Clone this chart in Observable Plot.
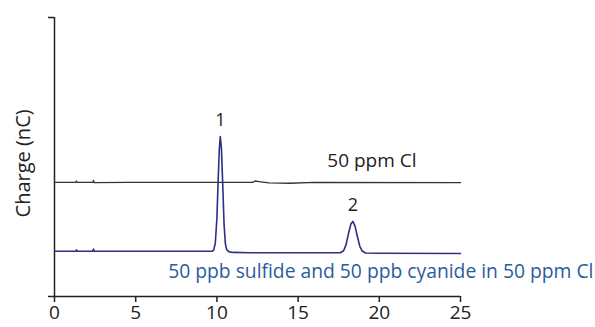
<!DOCTYPE html>
<html>
<head>
<meta charset="utf-8">
<script src="https://cdn.jsdelivr.net/npm/d3@7"></script>
<script src="https://cdn.jsdelivr.net/npm/@observablehq/plot@0.6"></script>
<style>
  html, body { margin: 0; padding: 0; background: #fff; }
  #chart svg { display: block; }
</style>
</head>
<body>
<div id="chart"></div>
<script>
// Sample trace (blue): retention time (min) and charge (arbitrary nC units)
const sampleTime   = [0.05, 1.3, 1.35, 1.4, 2.35, 2.4, 2.45, 6.0, 9.7, 9.8, 9.9, 10.0, 10.08, 10.15, 10.21, 10.28, 10.36, 10.44, 10.52, 10.6, 10.75, 11.0, 12.0, 15.0, 17.6, 17.8, 17.95, 18.1, 18.25, 18.37, 18.5, 18.65, 18.8, 18.95, 19.15, 20.0, 25.0];
const sampleCharge = [16.2, 16.2, 16.7, 16.2, 16.2, 17.0, 16.2, 16.2, 16.2, 16.6, 19.0, 28.0, 42.0, 53.0, 57.3, 53.0, 40.0, 26.0, 19.0, 16.8, 16.0, 15.8, 15.7, 15.7, 15.7, 16.4, 18.5, 22.5, 26.0, 26.9, 25.3, 21.5, 18.0, 16.3, 15.6, 15.5, 15.4];

// Blank trace (black): 50 ppm Cl
const blankTime   = [0.0, 1.3, 1.35, 1.4, 2.35, 2.4, 2.45, 4.5, 12.2, 12.35, 12.6, 13.2, 14.5, 16.0, 25.0];
const blankCharge = [40.9, 40.9, 41.4, 40.9, 40.9, 41.6, 40.8, 40.9, 40.9, 41.4, 41.2, 40.7, 40.6, 40.9, 40.8];

const xTicks = [0, 5, 10, 15, 20, 25];
const yExtent = [0, 100];
const yTitle = "Charge (nC)";

const peakNumbers = ["1", "2"];
const peakTimes = [10.21, 18.37];
const peakHeights = [57.3, 26.9];

const traceLabels = ["50 ppm Cl", "50 ppb sulfide and 50 ppb cyanide in 50 ppm Cl"];
const traceLabelTime = [16.8, 7.0];
const traceLabelCharge = [48.7, 9.0];

const sample = sampleTime.map((t, i) => ({t, v: sampleCharge[i]}));
const blank = blankTime.map((t, i) => ({t, v: blankCharge[i]}));
const peaks = peakNumbers.map((n, i) => ({n, t: peakTimes[i], v: peakHeights[i]}));

const font = "'Open Sans', 'DejaVu Sans', sans-serif";

const chart = Plot.plot({
  width: 595,
  height: 327,
  marginLeft: 54,
  marginRight: 135,
  marginTop: 17,
  marginBottom: 31,
  style: {fontFamily: font, background: "#fff", color: "#222"},
  x: {domain: [0, 25]},
  y: {domain: yExtent},
  marks: [
    Plot.axisX({ticks: xTicks, tickSize: 6, tickPadding: 3, fontSize: 19, label: null, stroke: "#222", strokeWidth: 1.5}),
    Plot.axisY({ticks: yExtent, tickSize: 6, tickFormat: () => "", label: null, stroke: "#222", strokeWidth: 1.5}),
    Plot.text([yTitle], {frameAnchor: "left", y: [47.7], text: d => d, rotate: -90, textAnchor: "middle", lineAnchor: "middle", dx: -31, fontSize: 20, fill: "#222"}),
    Plot.ruleY([0], {stroke: "#222", strokeWidth: 1.5}),
    Plot.ruleX([0], {stroke: "#222", strokeWidth: 1.5}),
    Plot.line(blank, {x: "t", y: "v", stroke: "#333", strokeWidth: 1.3}),
    Plot.line(sample, {x: "t", y: "v", stroke: "#2d2f86", strokeWidth: 1.6}),
    Plot.text(peaks, {x: "t", y: "v", text: "n", dy: -16, fontSize: 18, fill: "#222"}),
    Plot.text([0], {x: traceLabelTime[0], y: traceLabelCharge[0], text: [traceLabels[0]], textAnchor: "start", fontSize: 19, fill: "#222"}),
    Plot.text([0], {x: traceLabelTime[1], y: traceLabelCharge[1], text: [traceLabels[1]], textAnchor: "start", fontSize: 19.3, fill: "#2a5d9b"})
  ]
});
document.getElementById("chart").append(chart);
</script>
</body>
</html>
